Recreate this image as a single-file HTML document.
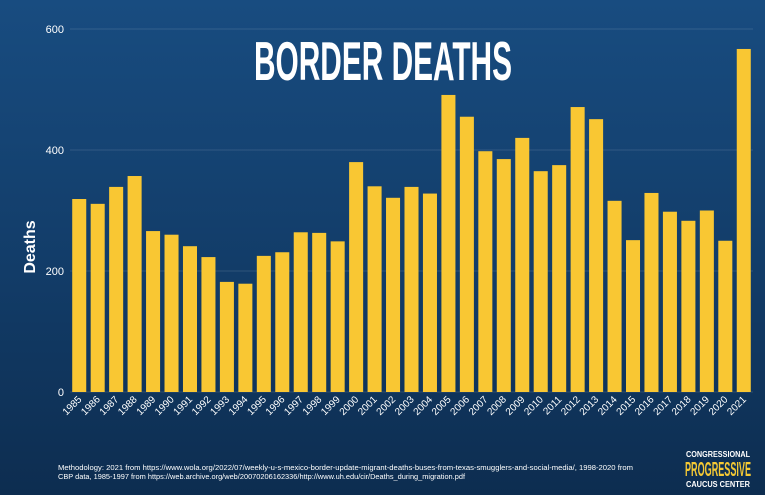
<!DOCTYPE html>
<html><head><meta charset="utf-8"><style>
html,body{margin:0;padding:0}
body{width:765px;height:495px;overflow:hidden;background:linear-gradient(180deg,#184c80 0%,#123c68 55%,#0d2d50 100%);font-family:"Liberation Sans",sans-serif;position:relative}
svg{position:absolute;left:0;top:0}
</style></head><body>
<svg id="chart" width="765" height="495">
<text x="383" y="80" text-anchor="middle" fill="#fff" font-family="Liberation Sans Narrow, Liberation Sans, sans-serif" font-weight="bold" font-size="55" textLength="258" lengthAdjust="spacingAndGlyphs">BORDER DEATHS</text>
<text transform="translate(35,247) rotate(-90)" text-anchor="middle" fill="#fff" font-weight="bold" font-size="16">Deaths</text>
<g id="grid"></g><g id="bars"></g><g id="xlabels"></g>
<text x="58" y="470" fill="#fff" font-size="7.6" textLength="575" lengthAdjust="spacingAndGlyphs">Methodology: 2021 from https://www.wola.org/2022/07/weekly-u-s-mexico-border-update-migrant-deaths-buses-from-texas-smugglers-and-social-media/, 1998-2020 from</text>
<text x="58" y="479" fill="#fff" font-size="7.6" textLength="407" lengthAdjust="spacingAndGlyphs">CBP data, 1985-1997 from https://web.archive.org/web/20070206162336/http://www.uh.edu/cir/Deaths_during_migration.pdf</text>
<g>
<text x="718" y="457" text-anchor="middle" fill="#fff" font-weight="bold" font-size="8" textLength="64" lengthAdjust="spacingAndGlyphs">CONGRESSIONAL</text>
<text x="718" y="476" text-anchor="middle" fill="#f5c934" font-family="Liberation Sans Narrow, Liberation Sans, sans-serif" font-weight="bold" font-size="20" textLength="66" lengthAdjust="spacingAndGlyphs">PROGRESSIVE</text>
<text x="718" y="487" text-anchor="middle" fill="#fff" font-weight="bold" font-size="8" textLength="64" lengthAdjust="spacingAndGlyphs">CAUCUS CENTER</text>
</g>
</svg>
<script>
const years=["1985","1986","1987","1988","1989","1990","1991","1992","1993","1994","1995","1996","1997","1998","1999","2000","2001","2002","2003","2004","2005","2006","2007","2008","2009","2010","2011","2012","2013","2014","2015","2016","2017","2018","2019","2020","2021"];
const deaths=[319,311,339,357,266,260,241,223,182,179,225,231,264,263,249,380,340,321,339,328,491,455,398,385,420,365,375,471,451,316,251,329,298,283,300,250,567];
const yTicks=[0,200,400,600];
const NS="http://www.w3.org/2000/svg";
const y0=392,y1=29,yMax=600,xL=70,xR=753;
const y=v=>y0-(v/yMax)*(y0-y1);
const step=(xR-xL)/years.length;
const x=i=>xL+i*step;
const bw=step*0.76;
const grid=document.getElementById('grid'),bars=document.getElementById('bars'),xl=document.getElementById('xlabels');
yTicks.forEach(t=>{
 const l=document.createElementNS(NS,'line');
 l.setAttribute('x1',xL);l.setAttribute('x2',xR);l.setAttribute('y1',y(t));l.setAttribute('y2',y(t));
 l.setAttribute('stroke','rgba(255,255,255,0.12)');
 
 
 grid.appendChild(l);
 const tx=document.createElementNS(NS,'text');
 tx.setAttribute('x',64);tx.setAttribute('y',y(t)+4);tx.setAttribute('text-anchor','end');
 tx.setAttribute('fill','#fff');tx.setAttribute('font-size','11');tx.textContent=t;
 
 
 grid.appendChild(tx);
});
deaths.forEach((v,i)=>{
 const r=document.createElementNS(NS,'rect');
 r.setAttribute('x',x(i)+(step-bw)/2);r.setAttribute('width',bw);
 r.setAttribute('y',y(v));r.setAttribute('height',y0-y(v));r.setAttribute('fill','#f9c733');
 
 
 bars.appendChild(r);
 const t=document.createElementNS(NS,'text');
 const cx=x(i)+step/2+3,cy=400;
 t.setAttribute('x',cx);t.setAttribute('y',cy);t.setAttribute('text-anchor','end');
 t.setAttribute('transform','rotate(-45 '+cx+' '+cy+')');
 t.setAttribute('fill','#fff');t.setAttribute('font-size','10');t.textContent=years[i];
 
 
 xl.appendChild(t);
});
</script>
</body></html>
